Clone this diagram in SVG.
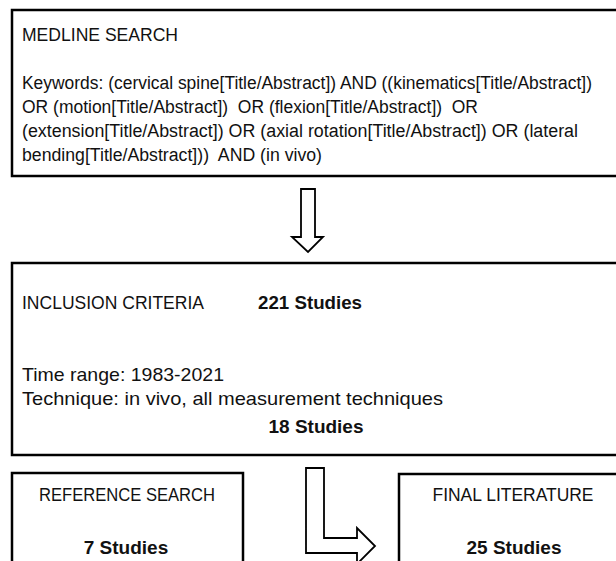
<svg xmlns="http://www.w3.org/2000/svg" width="616" height="561" viewBox="0 0 616 561">
  <style>
    .box { fill: #ffffff; stroke: #000000; stroke-width: 2.5; }
    .arrow { fill: #ffffff; stroke: #000000; stroke-width: 1.8; stroke-linejoin: miter; }
    text { font-family: "Liberation Sans", Arial, sans-serif; font-size: 19px; fill: #111111; }
    .s { font-size: 18px; }
    .b { font-weight: bold; }
    .c { text-anchor: middle; }
  </style>
  <rect width="616" height="561" fill="#ffffff"/>

  <g id="connectors">
    <!-- down arrow from search to inclusion -->
    <polygon class="arrow" points="301,189 315,189 315,237 323,237 308,252 292,237 301,237"/>
    <!-- bent arrow towards final literature -->
    <polygon class="arrow" points="306,468 324,468 324,538 357,538 357,528 375,546 357,564 357,553 306,553"/>
  </g>

  <g id="medline-search">
    <rect class="box" x="12" y="10" width="620" height="166"/>
    <text x="22" y="41" textLength="156" lengthAdjust="spacingAndGlyphs">MEDLINE SEARCH</text>
    <text class="s" x="22" y="89" textLength="570" lengthAdjust="spacingAndGlyphs">Keywords: (cervical spine[Title/Abstract]) AND ((kinematics[Title/Abstract])</text>
    <text class="s" x="22" y="113" textLength="456" lengthAdjust="spacingAndGlyphs" xml:space="preserve">OR (motion[Title/Abstract])  OR (flexion[Title/Abstract])  OR</text>
    <text class="s" x="22" y="137" textLength="556" lengthAdjust="spacingAndGlyphs">(extension[Title/Abstract]) OR (axial rotation[Title/Abstract]) OR (lateral</text>
    <text class="s" x="22" y="161" textLength="300" lengthAdjust="spacingAndGlyphs" xml:space="preserve">bending[Title/Abstract]))  AND (in vivo)</text>
  </g>

  <g id="inclusion-criteria">
    <rect class="box" x="12" y="263" width="620" height="192"/>
    <text x="22" y="309" textLength="182" lengthAdjust="spacingAndGlyphs">INCLUSION CRITERIA</text>
    <text class="b" x="258" y="309" textLength="104" lengthAdjust="spacingAndGlyphs">221 Studies</text>
    <text x="22" y="381" textLength="202" lengthAdjust="spacingAndGlyphs">Time range: 1983-2021</text>
    <text x="22" y="405" textLength="421" lengthAdjust="spacingAndGlyphs">Technique: in vivo, all measurement techniques</text>
    <text class="b c" x="316" y="433">18 Studies</text>
  </g>

  <g id="reference-search">
    <rect class="box" x="12" y="473" width="231" height="100"/>
    <text class="c" x="127" y="501" textLength="176" lengthAdjust="spacingAndGlyphs">REFERENCE SEARCH</text>
    <text class="b c" x="126" y="554">7 Studies</text>
  </g>

  <g id="final-literature">
    <rect class="box" x="399" y="474" width="240" height="100"/>
    <text class="c" x="513" y="501" textLength="161" lengthAdjust="spacingAndGlyphs">FINAL LITERATURE</text>
    <text class="b c" x="514" y="554">25 Studies</text>
  </g>
</svg>
